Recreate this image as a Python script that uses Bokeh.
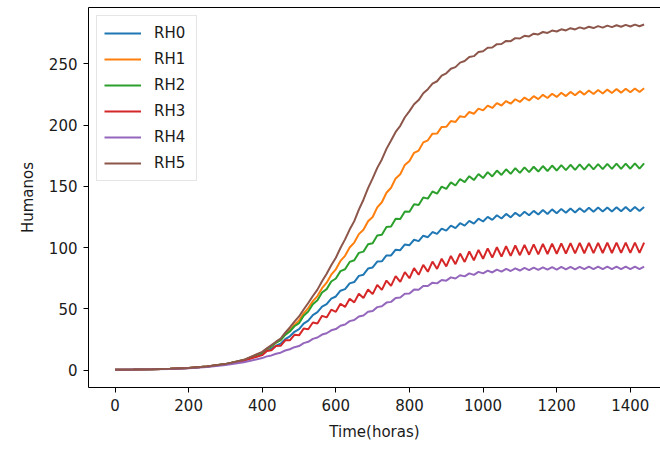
from bokeh.plotting import figure
from bokeh.models import FixedTicker, LinearAxis, Range1d
from bokeh.embed import file_html
from bokeh.resources import INLINE

# time grid of the simulation (hours)
HOURS = [0, 50, 100, 150, 200, 250, 300, 350] + [400 + 12.5 * j for j in range(84)]

RH0 = [0.3, 0.5, 0.8, 1.2, 1.9, 3.0, 5.0, 8.0,
       13.3, 15.8, 17.6, 20.1, 21.7, 25.4, 27.7, 31.4, 33.5, 38.0, 40.5, 45.0,
       47.4, 51.9, 53.9, 58.4, 60.2, 64.9, 66.2, 70.9, 72.0, 77.0, 78.0, 83.0,
       83.9, 88.7, 88.9, 93.7, 93.7, 98.4, 98.0, 102.7, 102.1, 106.5, 105.4, 109.8,
       108.6, 112.8, 111.3, 115.6, 114.0, 118.0, 116.0, 120.0, 118.0, 121.9, 119.7, 123.7,
       121.4, 125.2, 122.7, 126.5, 123.9, 127.6, 124.8, 128.6, 125.8, 129.4, 126.5, 130.1,
       127.1, 130.8, 127.6, 131.3, 128.1, 131.7, 128.5, 132.0, 128.8, 132.3, 129.1, 132.6,
       129.3, 132.8, 129.5, 132.9, 129.6, 133.1, 129.7, 133.2, 129.8, 133.2, 129.9, 133.3]

RH1 = [0.3, 0.5, 0.8, 1.2, 1.9, 3.0, 5.0, 8.3,
       14.4, 17.2, 19.7, 22.5, 24.8, 29.2, 32.8, 37.2, 40.7, 46.4, 50.7, 56.4,
       60.5, 67.0, 71.5, 78.0, 82.4, 89.2, 93.4, 100.2, 104.2, 111.1, 114.7, 121.6,
       125.1, 132.9, 137.1, 144.9, 149.0, 156.6, 160.0, 167.6, 170.8, 177.5, 179.3, 186.0,
       187.7, 193.1, 193.2, 198.6, 198.7, 203.4, 202.7, 207.4, 206.6, 210.8, 209.4, 213.5,
       212.1, 216.0, 214.1, 218.0, 216.1, 219.7, 217.6, 221.2, 219.0, 222.6, 220.2, 223.7,
       221.3, 224.8, 222.2, 225.7, 223.1, 226.5, 223.8, 227.2, 224.5, 227.8, 225.0, 228.3,
       225.5, 228.7, 225.9, 229.1, 226.3, 229.5, 226.6, 229.8, 226.9, 230.0, 227.1, 230.2]

RH2 = [0.3, 0.5, 0.8, 1.2, 1.9, 3.0, 5.0, 8.3,
       14.3, 17.4, 19.5, 22.6, 24.6, 28.9, 31.6, 35.9, 38.4, 44.4, 47.9, 53.9,
       57.2, 63.4, 66.2, 72.4, 74.9, 80.9, 82.4, 88.4, 89.8, 95.8, 96.8, 102.8,
       103.6, 110.0, 110.6, 117.0, 117.4, 123.6, 123.4, 129.6, 129.3, 135.5, 134.8, 141.0,
       140.1, 145.9, 144.1, 149.9, 148.0, 153.4, 150.8, 156.1, 153.5, 158.4, 155.2, 160.2,
       156.9, 161.7, 158.2, 163.0, 159.4, 164.0, 160.3, 164.9, 161.1, 165.6, 161.7, 166.1,
       162.2, 166.7, 162.6, 167.1, 163.0, 167.4, 163.3, 167.7, 163.6, 168.0, 163.8, 168.2,
       164.0, 168.3, 164.1, 168.5, 164.3, 168.6, 164.4, 168.7, 164.5, 168.8, 164.6, 168.9]

RH3 = [0.3, 0.5, 0.8, 1.2, 1.9, 3.0, 4.8, 7.8,
       12.3, 15.7, 16.3, 19.7, 19.9, 24.4, 24.4, 28.9, 28.5, 34.0, 33.5, 39.0,
       38.1, 44.4, 43.1, 49.4, 47.7, 54.3, 51.7, 58.3, 55.4, 62.4, 58.9, 65.9,
       62.1, 69.7, 65.6, 73.2, 68.8, 76.8, 72.1, 80.1, 75.1, 83.3, 77.9, 86.0,
       80.4, 88.7, 82.7, 91.0, 84.7, 93.3, 86.6, 95.2, 88.4, 96.9, 89.8, 98.2,
       91.0, 99.5, 91.9, 100.4, 92.7, 101.2, 93.3, 101.8, 93.9, 102.3, 94.3, 102.7,
       94.6, 103.1, 94.9, 103.3, 95.1, 103.6, 95.3, 103.7, 95.4, 103.9, 95.5, 104.0,
       95.6, 104.0, 95.7, 104.1, 95.7, 104.1, 95.8, 104.2, 95.8, 104.2, 95.8, 104.2]

RH4 = [0.3, 0.5, 0.7, 1.1, 1.7, 2.7, 4.2, 6.5,
       9.9, 11.3, 12.1, 13.5, 14.3, 16.1, 17.1, 18.8, 19.7, 22.1, 23.2, 25.6,
       26.7, 29.1, 30.2, 32.6, 33.6, 36.3, 37.3, 40.1, 41.0, 43.9, 44.7, 47.7,
       48.4, 51.5, 52.2, 55.2, 55.8, 59.0, 59.3, 62.5, 62.7, 65.8, 65.7, 68.8,
       68.7, 71.5, 70.9, 73.7, 73.1, 75.8, 74.9, 77.5, 76.6, 79.1, 77.8, 80.3,
       79.1, 81.3, 79.8, 82.1, 80.5, 82.7, 81.0, 83.2, 81.4, 83.5, 81.7, 83.8,
       81.9, 84.0, 82.1, 84.1, 82.2, 84.3, 82.3, 84.4, 82.4, 84.4, 82.5, 84.5,
       82.5, 84.5, 82.5, 84.5, 82.5, 84.5, 82.5, 84.5, 82.5, 84.5, 82.5, 84.5]

RH5 = [0.3, 0.5, 0.8, 1.2, 1.9, 3.0, 5.0, 8.5,
       15.0, 17.8, 20.5, 23.3, 25.9, 30.6, 34.9, 39.6, 43.9, 49.6, 54.9, 60.6,
       65.8, 72.7, 78.8, 85.7, 91.8, 99.8, 106.8, 114.8, 121.7, 131.1, 139.2, 148.6,
       156.6, 165.2, 172.1, 180.7, 187.5, 194.5, 199.5, 206.5, 211.5, 217.1, 220.5, 226.1,
       229.4, 233.9, 235.9, 240.4, 242.4, 246.1, 247.4, 251.1, 252.4, 255.7, 256.4, 259.7,
       260.4, 263.2, 263.4, 266.2, 266.3, 268.8, 268.6, 271.1, 270.8, 273.0, 272.5, 274.7,
       274.1, 276.1, 275.3, 277.3, 276.5, 278.3, 277.4, 279.2, 278.2, 279.9, 278.8, 280.4,
       279.3, 280.9, 279.7, 281.3, 280.1, 281.6, 280.4, 281.9, 280.6, 282.1, 280.8, 282.2]

SERIES = ["RH0", "RH1", "RH2", "RH3", "RH4", "RH5"]
VALUES = [RH0, RH1, RH2, RH3, RH4, RH5]
COLORS = ["#1f77b4", "#ff7f0e", "#2ca02c", "#d62728", "#9467bd", "#8c564b"]

X_TICKS = [0, 200, 400, 600, 800, 1000, 1200, 1400]
Y_TICKS = [0, 50, 100, 150, 200, 250]

FONT = "DejaVu Sans"
TXT = "#1a1a1a"

p = figure(width=660, height=449, output_backend="svg", toolbar_location=None,
           x_range=Range1d(-72, 1482), y_range=Range1d(-14.1, 296.1),
           min_border_left=88, min_border_right=0, min_border_top=7, min_border_bottom=62)
p.outline_line_color = None
p.xgrid.visible = False
p.ygrid.visible = False
p.background_fill_color = "white"
p.border_fill_color = "white"

for name, vals, col in zip(SERIES, VALUES, COLORS):
    p.line(HOURS, vals, line_color=col, line_width=2, legend_label=name)

p.xaxis.ticker = FixedTicker(ticks=X_TICKS)
p.yaxis.ticker = FixedTicker(ticks=Y_TICKS)
p.xaxis.axis_label = "Time(horas)"
p.yaxis.axis_label = "Humanos"
for ax in (p.xaxis[0], p.yaxis[0]):
    ax.axis_line_color = "black"
    ax.axis_line_width = 1
    ax.major_tick_line_color = "black"
    ax.major_tick_line_width = 1
    ax.major_tick_out = 5
    ax.major_tick_in = 0
    ax.minor_tick_line_color = None
    ax.major_label_text_font = FONT
    ax.major_label_text_font_size = "15px"
    ax.major_label_text_color = TXT
    ax.major_label_standoff = 6
    ax.axis_label_text_font = FONT
    ax.axis_label_text_font_size = "15px"
    ax.axis_label_text_font_style = "normal"
    ax.axis_label_text_color = TXT
    ax.axis_label_standoff = 9

# top spine only (the right spine lies outside the cropped picture)
top = LinearAxis(ticker=FixedTicker(ticks=[]), axis_line_color="black", axis_line_width=1,
                 major_tick_line_color=None, minor_tick_line_color=None,
                 major_tick_out=0, major_tick_in=0, major_label_standoff=0)
p.add_layout(top, "above")

lg = p.legend[0]
lg.location = "top_left"
lg.margin = 8
lg.padding = 7
lg.spacing = 6
lg.glyph_width = 37
lg.glyph_height = 20
lg.label_height = 20
lg.label_width = 35
lg.label_standoff = 13
lg.label_text_font = FONT
lg.label_text_font_size = "15px"
lg.label_text_color = TXT
lg.border_line_color = "#cccccc"
lg.border_line_width = 1
lg.background_fill_color = "white"
lg.background_fill_alpha = 0.8

open("out.html", "w").write(file_html(p, INLINE))
